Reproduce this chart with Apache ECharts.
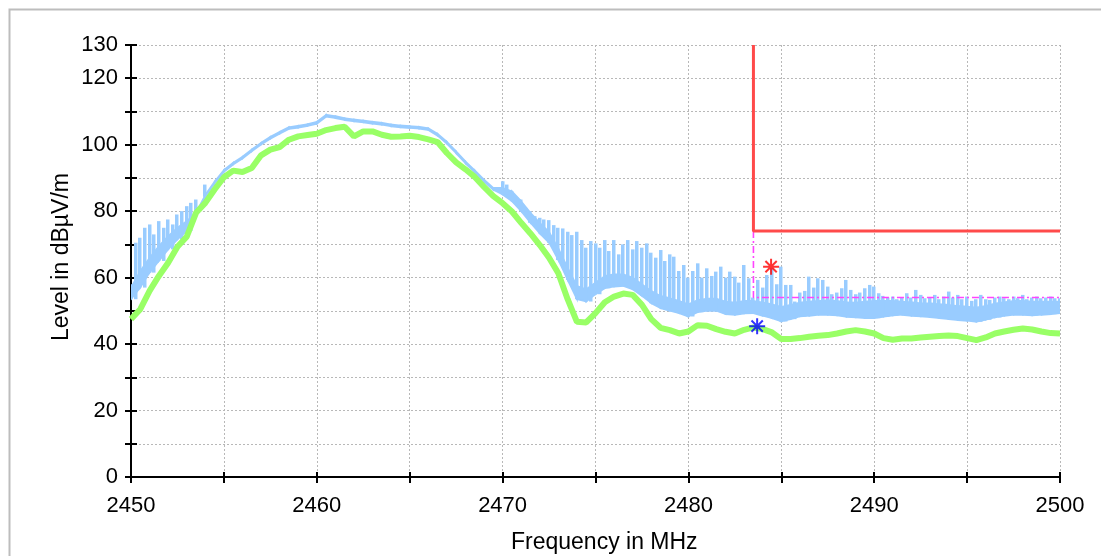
<!DOCTYPE html>
<html>
<head>
<meta charset="utf-8">
<script src="https://cdn.jsdelivr.net/npm/echarts@6/dist/echarts.min.js"></script>
<style>
html,body{margin:0;padding:0;background:#fff;}
#c{width:1101px;height:556px;}
</style>
</head>
<body>
<div id="c"></div>
<script>
// Frequency sweep grid (MHz)
const fStart = 2450, fStep = 0.5, spikeStep = 0.25;

// Blue trace (peak detector) – lower and upper edge of the body, per 0.5 MHz
const blueLow = [
53.5,57.0,61.5,65.0,68.5,71.5,74.0,79.0,84.3,88.3,
91.8,94.0,95.8,98.0,100.0,101.8,103.3,104.7,105.1,105.6,
106.3,108.4,108.0,107.4,107.0,106.7,106.3,106.0,105.5,105.2,
105.0,104.8,104.4,102.7,100.3,97.4,94.4,91.7,88.9,86.4,
85.0,83.0,80.0,76.5,73.3,70.5,65.3,59.3,53.5,52.8,
55.0,56.8,57.3,57.5,56.5,54.5,52.3,50.8,50.0,49.3,
48.3,49.6,50.0,50.0,49.0,48.8,49.2,49.3,48.5,47.8,
46.8,47.5,48.3,48.5,48.8,48.8,48.6,48.2,48.0,47.8,
47.8,48.2,48.6,48.8,48.5,48.3,48.1,47.8,47.5,47.2,
47.0,46.7,47.3,48.0,48.5,48.8,48.8,48.6,48.8,49.0,
49.3];
const blueHigh = [
57.0,62.0,66.0,69.5,72.5,75.0,77.0,79.6,84.9,88.9,
92.4,94.6,96.4,98.6,100.6,102.4,103.9,105.3,105.7,106.2,
106.9,109.0,108.6,108.0,107.6,107.3,106.9,106.6,106.1,105.8,
105.6,105.4,105.0,103.3,100.9,98.0,95.0,92.3,89.5,87.0,
87.0,86.0,83.0,79.5,76.5,73.8,68.8,63.0,57.5,56.5,
58.5,60.5,61.0,61.0,60.0,58.0,56.0,54.5,53.8,53.0,
52.0,53.3,53.7,53.7,52.8,52.5,53.0,53.0,52.5,52.0,
51.2,51.8,52.5,52.8,53.0,53.2,53.0,52.6,52.5,52.8,
53.0,53.0,53.0,52.8,52.6,52.3,52.3,52.0,51.8,51.5,
51.3,51.0,51.5,52.2,52.6,53.0,53.0,52.8,52.8,52.8,
52.8];
// Blue trace spike tops, per 0.25 MHz (null = no spike)
const blueSpikes = [
58,70.5,72,75,76,73,77,75,77.5,76,79,80,81.5,82.5,83.5,null,88,
null,null,null,null,null,null,null,null,null,null,null,null,null,null,null,null,
null,null,null,null,null,null,null,null,null,null,null,null,null,null,null,null,
null,null,null,null,null,null,null,null,null,null,null,null,null,null,null,null,
null,null,null,null,null,null,null,null,null,null,null,null,null,null,null,
89,88,86,84,83.5,81,80,78.5,78,77.5,77.3,75.8,75,74.8,73.8,72.8,73.8,71.3,69,71,
70.3,69,71.3,68,71.3,67,70,71.3,68.5,71,69,70.3,67.5,66,68.3,65,67,66.3,62,63.8,
60,62,64.3,60,62.8,60.5,61.8,63.3,60,61.8,60.3,58.5,63.8,59.8,54,59.3,57,60.8,62.8,58,
63.3,57.8,57.8,52.8,55.5,56,60.3,57,59.8,59.3,57.3,55,55.5,56.8,59.3,56.3,55,55.5,56.8,57.8,
57.3,55.3,54.5,54,54.3,53.5,54,55.3,54,56.3,54.8,53.8,54,54.8,53.5,54.3,55.8,54,54.8,53.5,
54.3,53,53.5,54.8,53.5,53.3,54,54.3,53.8,53.5,54.3,53.8,54.8,53.5,54,54.3,53.8,54,54.3,53.8,
53.8];
// Green trace (average detector), per 0.5 MHz
const greenTrace = [
47.5,50.5,56.0,60.5,64.5,69.3,72.3,79.5,82.5,86.5,
90.2,92.2,91.8,93.0,96.8,98.5,99.3,101.5,102.5,102.9,
103.3,104.4,105.0,105.4,102.5,104.0,104.0,103.0,102.4,102.5,
102.7,102.3,101.6,100.8,97.5,94.7,92.6,90.3,87.3,84.5,
82.4,79.9,76.5,73.3,69.8,66.0,61.3,53.5,46.7,46.5,
49.3,52.6,54.3,55.2,54.8,51.8,47.5,44.9,44.2,43.2,
43.8,45.7,45.5,44.5,43.7,43.2,44.3,45.0,44.5,43.5,
41.5,41.5,41.8,42.2,42.5,42.7,43.2,43.8,44.2,43.8,
43.2,41.8,41.3,41.7,41.7,42.0,42.2,42.4,42.6,42.4,
41.8,41.2,42.0,43.2,43.8,44.3,44.7,44.4,43.8,43.3,
43.2];
// Limit lines
const limitPeak = [[2483.5,130],[2483.5,74],[2500,74]];
const limitAvg = [[2483.5,74],[2483.5,54],[2500,54]];
// Markers
const markerPeak = [[2484.45,63.3]];
const markerAvg = [[2483.7,45.4]];
// Axis labels
const xLabels = [2450,2460,2470,2480,2490,2500];
const yLabels = [0,20,40,60,80,100,120,130];

const freqs = blueLow.map((_, i) => fStart + i * fStep);
const bandData = [];
for (let i = 0; i < freqs.length - 1; i++) {
  bandData.push([freqs[i], blueLow[i], blueHigh[i], freqs[i+1], blueLow[i+1], blueHigh[i+1]]);
}
const spikeData = [];
blueSpikes.forEach((v, j) => {
  if (v == null) return;
  const i = Math.floor(j / 2);
  spikeData.push([fStart + j * spikeStep, blueLow[i], v]);
});
const greenData = greenTrace.map((v, i) => [freqs[i], v]);

const FONT = '"Liberation Sans",Arial,sans-serif';
const chart = echarts.init(document.getElementById('c'), null, {renderer: 'canvas'});

const grid = {left: 131, right: 41, top: 45, bottom: 79};
const xBase = {type: 'value', min: 2450, max: 2500, interval: 5};
const yBase = {type: 'value', min: 0, max: 130, interval: 10};
const STAR = 'path://M-1,-8L1,-8L1,8L-1,8Z M-8,-1L8,-1L8,1L-8,1Z M-4.95,-6.36L6.36,4.95L4.95,6.36L-6.36,-4.95Z M4.95,-6.36L6.36,-4.95L-4.95,6.36L-6.36,4.95Z';

chart.setOption({
  animation: false,
  backgroundColor: '#fff',
  grid: grid,
  graphic: [
    {type: 'rect', z: -10, shape: {x: 9.5, y: 9.5, width: 1200, height: 600},
     style: {fill: 'none', stroke: '#bdbdbd', lineWidth: 2}},
    {type: 'text', left: 511, top: 531, style: {text: 'Frequency in MHz', font: '23px ' + FONT, fill: '#000'}},
    {type: 'text', x: 50, y: 341, rotation: Math.PI / 2,
     style: {text: 'Level in dBµV/m', font: '23px ' + FONT, fill: '#000', textAlign: 'left', textVerticalAlign: 'top'}}
  ],
  xAxis: [
    Object.assign({}, xBase, {
      position: 'bottom',
      axisLine: {show: true, onZero: false, lineStyle: {color: '#000', width: 2}},
      axisTick: {show: true, inside: false, length: 6, lineStyle: {color: '#000', width: 2}},
      axisLabel: {show: true, margin: 18, color: '#000', fontSize: 22, fontFamily: FONT,
        formatter: v => (xLabels.indexOf(v) >= 0 ? String(v) : '')},
      splitLine: {show: true, lineStyle: {color: '#b8b8b8', width: 1, type: [2, 2]}}
    }),
    Object.assign({}, xBase, {
      position: 'bottom',
      axisLine: {show: false, onZero: false},
      axisTick: {show: true, inside: true, length: 5, lineStyle: {color: '#000', width: 2}},
      axisLabel: {show: false},
      splitLine: {show: false}
    })
  ],
  yAxis: [
    Object.assign({}, yBase, {
      position: 'left',
      axisLine: {show: true, onZero: false, lineStyle: {color: '#000', width: 2}},
      axisTick: {show: true, inside: false, length: 6, lineStyle: {color: '#000', width: 2}},
      axisLabel: {show: true, margin: 13, color: '#000', fontSize: 22, fontFamily: FONT,
        formatter: v => (yLabels.indexOf(v) >= 0 ? String(v) : '')},
      splitLine: {show: true, lineStyle: {color: '#b8b8b8', width: 1, type: [2, 2]}}
    }),
    Object.assign({}, yBase, {
      position: 'left',
      axisLine: {show: false, onZero: false},
      axisTick: {show: true, inside: true, length: 6, lineStyle: {color: '#000', width: 2}},
      axisLabel: {show: false},
      splitLine: {show: false}
    })
  ],
  series: [
    {
      type: 'custom', name: 'blueBody', clip: true, z: 3,
      data: bandData,
      encode: {x: [0, 3], y: [1, 2, 4, 5]},
      renderItem: function (params, api) {
        const p1 = api.coord([api.value(0), api.value(1)]);
        const p2 = api.coord([api.value(3), api.value(4)]);
        const p3 = api.coord([api.value(3), api.value(5)]);
        const p4 = api.coord([api.value(0), api.value(2)]);
        return {type: 'polygon', shape: {points: [p1, p2, p3, p4]},
          style: {fill: '#99ccff', stroke: '#99ccff', lineWidth: 1.6}};
      }
    },
    {
      type: 'custom', name: 'blueSpikes', clip: true, z: 3,
      data: spikeData,
      encode: {x: 0, y: [1, 2]},
      renderItem: function (params, api) {
        const a = api.coord([api.value(0), api.value(1)]);
        const b = api.coord([api.value(0), api.value(2)]);
        const x0 = Math.round(a[0]) - 2;
        return {type: 'rect', shape: {x: x0, y: b[1], width: 3.5, height: a[1] - b[1]},
          style: {fill: '#99ccff'}};
      }
    },
    {
      type: 'line', name: 'green', data: greenData, z: 4,
      showSymbol: false, symbol: 'none',
      lineStyle: {color: '#99ff66', width: 6}
    },
    {
      type: 'line', name: 'limitAvg', data: limitAvg, z: 5,
      showSymbol: false, symbol: 'none',
      lineStyle: {color: '#ff44ff', width: 1.6, type: [7, 3, 2, 3]}
    },
    {
      type: 'line', name: 'limitPeak', data: limitPeak, z: 6,
      showSymbol: false, symbol: 'none',
      lineStyle: {color: '#ff4a4a', width: 3}
    },
    {
      type: 'scatter', name: 'mPeak', data: markerPeak, z: 7,
      symbol: STAR, symbolSize: 16, itemStyle: {color: '#ff0000'}
    },
    {
      type: 'scatter', name: 'mAvg', data: markerAvg, z: 7,
      symbol: STAR, symbolSize: 16, itemStyle: {color: '#0000ff'}
    }
  ]
});
</script>
</body>
</html>
